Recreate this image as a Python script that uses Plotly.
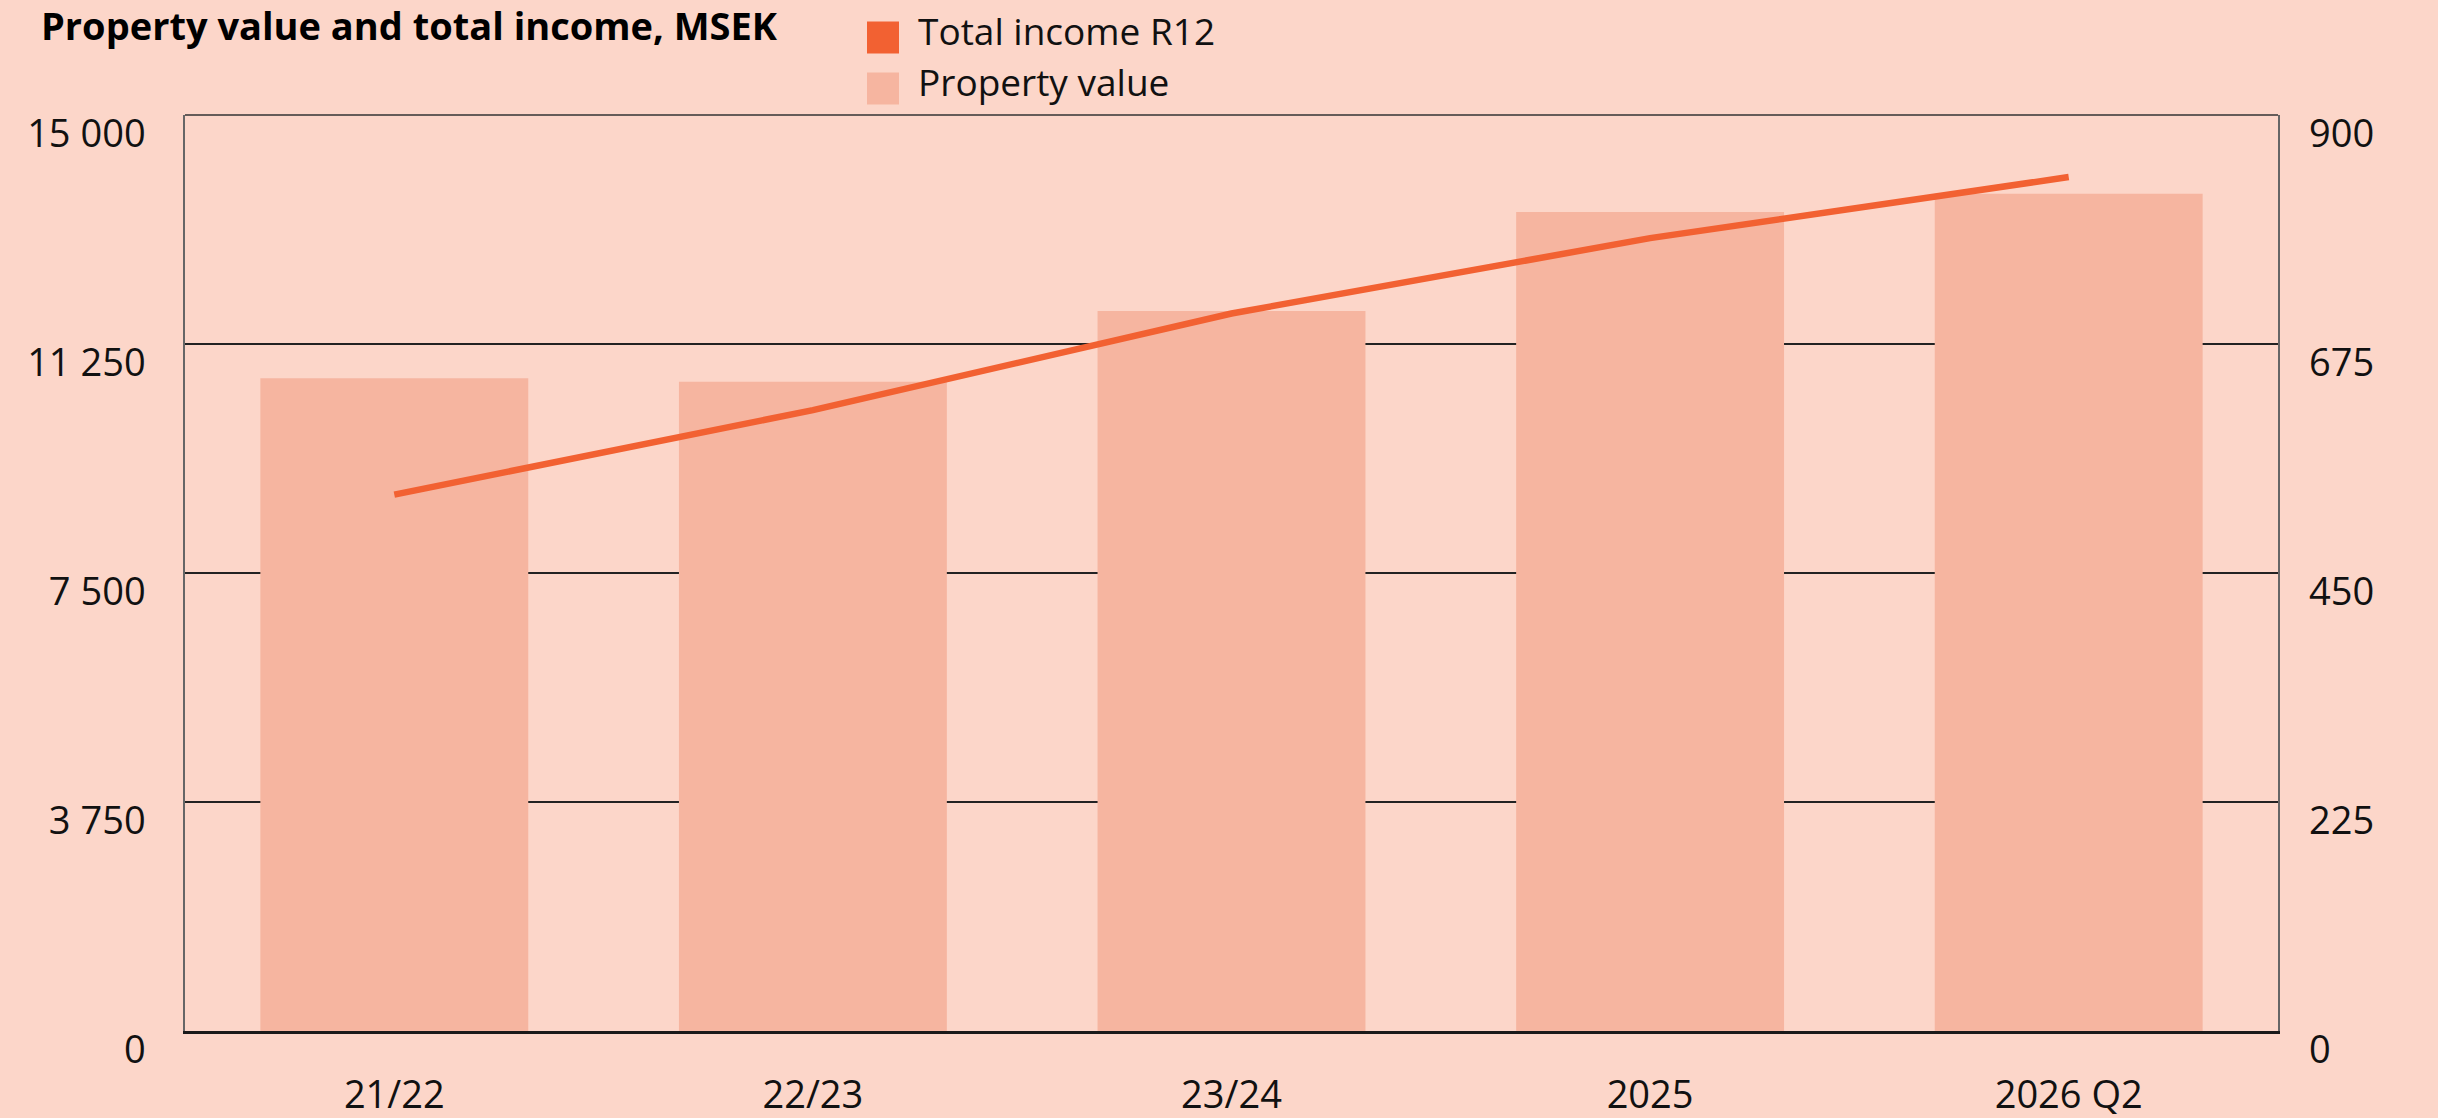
import plotly.graph_objects as go

# Data
categories = ['21/22', '22/23', '23/24', '2025', '2026 Q2']
property_value = [10690, 10630, 11790, 13410, 13710]   # MSEK, left axis
total_income = [527, 610, 705, 779, 839]               # MSEK, right axis

left_ticks = [0, 3750, 7500, 11250, 15000]
right_ticks = [0, 225, 450, 675, 900]

BG = '#FCD6C9'
BAR = '#F6B5A0'
LINE = '#F26132'
FONT = 'Open Sans'

W, H = 2438, 1118
ML, MR, MT, MB = 185, 160, 115, 87
PW, PH = W - ML - MR, H - MT - MB


def px_x(x):
    return (x - ML) / PW


def px_y(y):
    return (H - MB - y) / PH


def fmt(v):
    return f'{v:,}'.replace(',', ' ')


fig = go.Figure()

fig.add_trace(go.Bar(
    x=categories, y=property_value, name='Property value',
    marker_color=BAR, marker_line_width=0, showlegend=False,
))
fig.add_trace(go.Scatter(
    x=categories, y=total_income, name='Total income R12', yaxis='y2',
    mode='lines', line=dict(color=LINE, width=6.5), showlegend=False,
))

# legend drawn by hand (square swatches)
legend_items = [('Total income R12', LINE, 37.5), ('Property value', BAR, 88.5)]
for label, color, yc in legend_items:
    fig.add_shape(type='rect', xref='paper', yref='paper',
                  x0=px_x(867), x1=px_x(899), y0=px_y(yc - 16), y1=px_y(yc + 16),
                  fillcolor=color, line_width=0)
    fig.add_annotation(text=label, xref='paper', yref='paper',
                       x=px_x(916), y=px_y(yc - 7), xanchor='left', yanchor='middle',
                       showarrow=False, font=dict(family=FONT, size=37, color='#111'))

# top frame line
fig.add_shape(type='line', xref='paper', yref='paper', x0=0, x1=1, y0=1, y1=1,
              line=dict(color='#333', width=1.5), layer='above')

fig.update_layout(
    template='none',
    width=W, height=H,
    margin=dict(l=ML, r=MR, t=MT, b=MB, pad=0),
    paper_bgcolor=BG, plot_bgcolor=BG,
    bargap=0.36,
    font=dict(family=FONT, size=38, color='#111'),
    title=dict(text='<b>Property value and total income, MSEK</b>',
               xref='container', yref='container', x=41 / W, y=1 - 27 / H,
               xanchor='left', yanchor='middle',
               font=dict(family=FONT, size=38, color='#000')),
    xaxis=dict(showgrid=False, showline=True, linecolor='#1a1a1a', linewidth=3,
               ticks='', ticklabelstandoff=28, tickfont=dict(size=38),
               automargin=False),
    yaxis=dict(range=[0, 15000], tickvals=left_ticks,
               ticktext=[fmt(v) for v in left_ticks],
               showgrid=True, gridcolor='#222', gridwidth=1.5, zeroline=False,
               showline=True, linecolor='#666', linewidth=1.5, mirror=True,
               ticks='', ticklabelstandoff=30, ticklabelshift=19,
               tickfont=dict(size=38), automargin=False),
    yaxis2=dict(range=[0, 900], tickvals=right_ticks,
                ticktext=[fmt(v) for v in right_ticks],
                overlaying='y', side='right',
                showgrid=False, zeroline=False, showline=False,
                ticks='', ticklabelstandoff=30, ticklabelshift=19,
                tickfont=dict(size=38), automargin=False),
)

fig.write_html('out.html', config={'displayModeBar': False},
               post_script="document.body.style.margin='0';")
